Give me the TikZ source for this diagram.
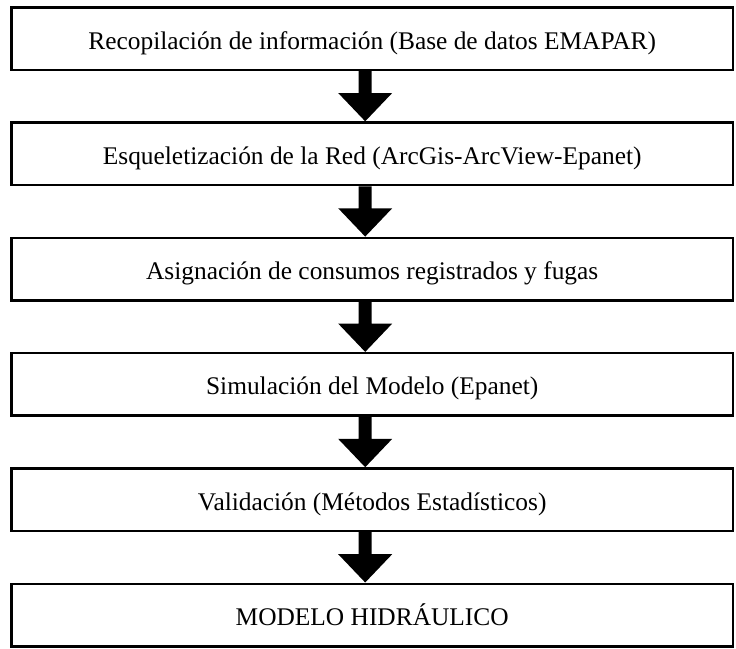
\documentclass[tikz,border=0pt]{standalone}
\usepackage{fontspec}
\setmainfont{Liberation Serif}
\usetikzlibrary{calc}
\tikzset{
  stepbox/.style={draw=black, line width=2.5pt, fill=white, minimum width=721.7pt, minimum height=62.5pt,
    inner sep=0pt, text height=21pt, text depth=0pt, font=\fontsize{25.4}{30}\selectfont},
}
\newcommand\blockarrow[2]{%
  \fill[black] ($(#1.south)+(-13.5pt,0)$) -- ($(#1.south)+(-0.5pt,0)$) -- ($(#1.south)+(-0.5pt,-22pt)$)
   -- ($(#1.south)+(20pt,-22pt)$) -- ($(#2.north)+(-7pt,0)$) -- ($(#1.south)+(-34pt,-22pt)$)
   -- ($(#1.south)+(-13.5pt,-22pt)$) -- cycle;}
\begin{document}
\begin{tikzpicture}
\useasboundingbox (0,0) rectangle (736pt,-648pt);
\node[stepbox] (b1) at (372.2pt,-38.5pt) {Recopilación de información (Base de datos EMAPAR)};
\node[stepbox] (b2) at (372.2pt,-153.8pt) {Esqueletización de la Red (ArcGis-ArcView-Epanet)};
\node[stepbox] (b3) at (372.2pt,-269.1pt) {Asignación de consumos registrados y fugas};
\node[stepbox] (b4) at (372.2pt,-384.4pt) {Simulación del Modelo (Epanet)};
\node[stepbox] (b5) at (372.2pt,-499.7pt) {Validación (Métodos Estadísticos)};
\node[stepbox] (b6) at (372.2pt,-615.0pt) {MODELO HIDRÁULICO};
\blockarrow{b1}{b2}
\blockarrow{b2}{b3}
\blockarrow{b3}{b4}
\blockarrow{b4}{b5}
\blockarrow{b5}{b6}
\end{tikzpicture}
\end{document}
